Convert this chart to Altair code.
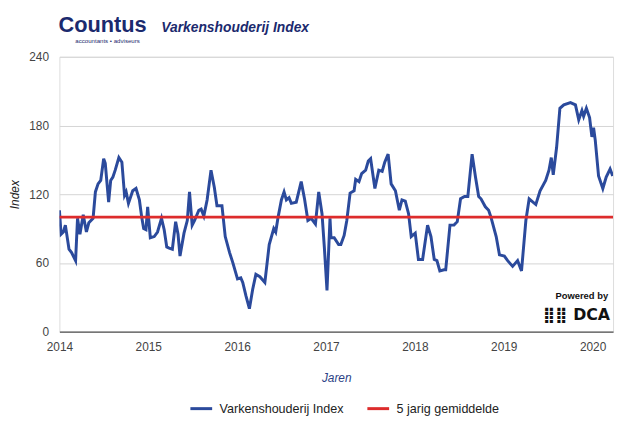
import altair as alt
import pandas as pd

jaar = [2014.000, 2014.019, 2014.045, 2014.067, 2014.108, 2014.137, 2014.182, 2014.204, 2014.231, 2014.268,
        2014.304, 2014.331, 2014.379, 2014.405, 2014.435, 2014.465, 2014.498, 2014.516, 2014.554, 2014.577,
        2014.602, 2014.628, 2014.669, 2014.703, 2014.733, 2014.751, 2014.777, 2014.825, 2014.862, 2014.900,
        2014.926, 2014.948, 2014.974, 2014.993, 2015.023, 2015.067, 2015.104, 2015.149, 2015.179, 2015.208,
        2015.235, 2015.271, 2015.308, 2015.335, 2015.357, 2015.402, 2015.439, 2015.464, 2015.494, 2015.520,
        2015.569, 2015.595, 2015.625, 2015.662, 2015.706, 2015.743, 2015.773, 2015.829, 2015.866, 2015.915,
        2015.952, 2016.004, 2016.041, 2016.063, 2016.100, 2016.138, 2016.175, 2016.211, 2016.256, 2016.312,
        2016.361, 2016.412, 2016.434, 2016.461, 2016.498, 2016.528, 2016.554, 2016.584, 2016.610, 2016.665,
        2016.721, 2016.758, 2016.796, 2016.833, 2016.881, 2016.918, 2016.955, 2016.981, 2017.011, 2017.045,
        2017.056, 2017.092, 2017.142, 2017.167, 2017.204, 2017.234, 2017.271, 2017.316, 2017.334, 2017.371,
        2017.401, 2017.446, 2017.476, 2017.502, 2017.550, 2017.594, 2017.632, 2017.661, 2017.699, 2017.733,
        2017.781, 2017.825, 2017.855, 2017.892, 2017.929, 2017.959, 2018.004, 2018.040, 2018.087, 2018.143,
        2018.181, 2018.218, 2018.248, 2018.281, 2018.328, 2018.347, 2018.395, 2018.440, 2018.477, 2018.514,
        2018.559, 2018.596, 2018.644, 2018.682, 2018.718, 2018.744, 2018.793, 2018.830, 2018.856, 2018.915,
        2018.952, 2019.007, 2019.044, 2019.100, 2019.156, 2019.200, 2019.249, 2019.286, 2019.361, 2019.409,
        2019.472, 2019.509, 2019.535, 2019.557, 2019.595, 2019.632, 2019.676, 2019.751, 2019.807, 2019.844,
        2019.880, 2019.899, 2019.930, 2019.966, 2019.992, 2020.011, 2020.030, 2020.067, 2020.115, 2020.153,
        2020.197, 2020.226]
index = [106, 85, 87, 93, 72, 69, 62, 99, 85, 102,
         87, 95, 99, 122, 129, 132, 151, 147, 113, 132,
         135, 141, 152, 148, 119, 122, 112, 123, 125, 115,
         100, 90, 89, 109, 82, 83, 87, 99, 89, 74,
         73, 72, 96, 85, 66, 86, 97, 122, 93, 97,
         106, 107, 101, 115, 141, 126, 110, 110, 83, 69,
         60, 46, 47, 43, 31, 20, 37, 50, 48, 43,
         76, 90, 87, 100, 115, 122, 115, 117, 112, 113,
         131, 116, 97, 99, 94, 122, 103, 74, 36, 99,
         82, 82, 76, 76, 84, 97, 121, 123, 133, 131,
         138, 141, 149, 151, 125, 141, 140, 148, 155, 129,
         123, 106, 115, 114, 103, 83, 86, 63, 63, 93,
         83, 63, 62, 53, 54, 54, 93, 93, 96, 116,
         118, 118, 155, 135, 118, 116, 109, 106, 100, 83,
         67, 66, 62, 57, 62, 53, 97, 116, 111, 123,
         132, 141, 152, 137, 161, 195, 198, 200, 198, 185,
         193, 188, 195, 187, 170, 178, 167, 136, 125, 135,
         142, 136]

gem_jaar = [2014.0, 2020.23]
gem_waarde = [100, 100]

series = ["Varkenshouderij Index", "5 jarig gemiddelde"]
kleuren = ["#2b4a9c", "#dd2c2c"]
y_ticks = [0, 60, 120, 180, 240]
x_ticks = [2014, 2015, 2016, 2017, 2018, 2019, 2020]

df = pd.concat([
    pd.DataFrame({"jaar": jaar, "waarde": index, "reeks": series[0]}),
    pd.DataFrame({"jaar": gem_jaar, "waarde": gem_waarde, "reeks": series[1]}),
])

FONT = "Liberation Sans"

lines = alt.Chart(df).mark_line(strokeWidth=3, clip=True).encode(
    x=alt.X("jaar:Q",
            scale=alt.Scale(domain=[2014, 2020.23], nice=False, zero=False),
            axis=alt.Axis(values=x_ticks, format="d", title="Jaren", grid=False, ticks=False,
                          domain=True, domainColor="#333333", domainWidth=1,
                          labelColor="#444444", labelFontSize=12, labelPadding=10,
                          labelFlush=False,
                          titleFontStyle="italic", titleFontWeight="normal", titleColor="#2c3f85",
                          titleFontSize=12, titlePadding=20)),
    y=alt.Y("waarde:Q",
            scale=alt.Scale(domain=[0, 240], nice=False),
            axis=alt.Axis(values=y_ticks, title="Index", grid=True, gridColor="#d4d4d4",
                          ticks=False, domain=False, labelColor="#444444", labelFontSize=12,
                          labelPadding=11, titleFontStyle="italic", titleFontWeight="normal",
                          titleColor="#222222", titleFontSize=12, titlePadding=7)),
    color=alt.Color("reeks:N",
                    scale=alt.Scale(domain=series, range=kleuren),
                    sort=series,
                    legend=alt.Legend(title=None, orient="none", legendX=131, legendY=343,
                                      direction="horizontal", symbolType="stroke",
                                      symbolSize=484, symbolStrokeWidth=3,
                                      labelFontSize=12.7, labelColor="#222222", labelFont=FONT,
                                      columnPadding=17, labelOffset=6)),
    order=alt.Order("jaar:Q"),
)

logo = alt.Chart(pd.DataFrame({"t": ["Countus"]})).mark_text(
    font=FONT, fontSize=22, fontWeight="bold", color="#1b2a6e", align="left", baseline="alphabetic"
).encode(x=alt.value(-1), y=alt.value(-25), text="t:N")

logo_sub = alt.Chart(pd.DataFrame({"t": ["accountants • adviseurs"]})).mark_text(
    font=FONT, fontSize=6.2, color="#1b2a6e", align="left", baseline="alphabetic"
).encode(x=alt.value(16), y=alt.value(-14), text="t:N")

titel = alt.Chart(pd.DataFrame({"t": ["Varkenshouderij Index"]})).mark_text(
    font=FONT, fontSize=14, fontWeight="bold", fontStyle="italic", color="#1b2a6e",
    align="left", baseline="alphabetic"
).encode(x=alt.value(103), y=alt.value(-25), text="t:N")

powered = alt.Chart(pd.DataFrame({"t": ["Powered by"]})).mark_text(
    font=FONT, fontSize=9.5, fontWeight="bold", color="#111111", align="right", baseline="alphabetic"
).encode(x=alt.value(555), y=alt.value(245), text="t:N")

dca = alt.Chart(pd.DataFrame({"t": ["⣿⣿ DCA"]})).mark_text(
    font="DejaVu Sans", fontSize=16, fontWeight="bold", color="#111111", align="right",
    baseline="alphabetic"
).encode(x=alt.value(557), y=alt.value(266), text="t:N")

chart = alt.layer(lines, logo, logo_sub, titel, powered, dca).properties(
    width=560, height=278,
    autosize=alt.AutoSizeParams(type="none"),
    padding={"left": 52, "top": 47, "right": 4, "bottom": 83},
).configure_view(stroke=None).configure(font=FONT, background="white")

chart.save("out.html", embed_options={"renderer": "svg", "actions": False})
